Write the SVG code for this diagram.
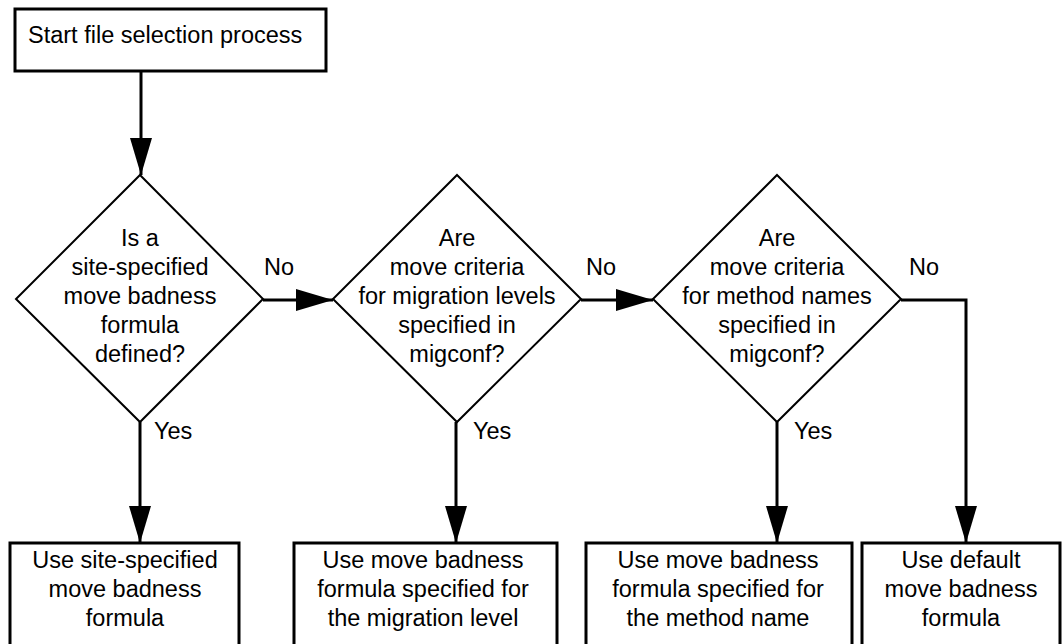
<svg xmlns="http://www.w3.org/2000/svg" width="1063" height="644" viewBox="0 0 1063 644">
<style>
.box{fill:#fff;stroke:#000;stroke-width:3}
.dia{fill:#fff;stroke:#000;stroke-width:2}
.t{font-family:"Liberation Sans",Arial,sans-serif;font-size:23.5px;fill:#000}
.c{text-anchor:middle}
.ln{fill:none;stroke:#000;stroke-width:3}
</style>
<defs>
<marker id="ah" markerUnits="userSpaceOnUse" markerWidth="38" markerHeight="22" refX="37" refY="11" orient="auto">
<path d="M0,0 L37,11 L0,22 Z" fill="#000"/>
</marker>
</defs>
<g id="connectors">
<line class="ln" x1="141" y1="71" x2="141" y2="175" marker-end="url(#ah)"/>
<line class="ln" x1="263" y1="300" x2="333" y2="300" marker-end="url(#ah)"/>
<line class="ln" x1="581" y1="300" x2="653" y2="300" marker-end="url(#ah)"/>
<polyline class="ln" points="901,300 966,300 966,543" marker-end="url(#ah)"/>
<line class="ln" x1="140" y1="422" x2="140" y2="543" marker-end="url(#ah)"/>
<line class="ln" x1="456" y1="422" x2="456" y2="543" marker-end="url(#ah)"/>
<line class="ln" x1="777" y1="422" x2="777" y2="543" marker-end="url(#ah)"/>
<text class="t" x="264" y="275">No</text>
<text class="t" x="586" y="275">No</text>
<text class="t" x="909" y="275">No</text>
<text class="t" x="154" y="439">Yes</text>
<text class="t" x="473" y="439">Yes</text>
<text class="t" x="794" y="439">Yes</text>
</g>
<g id="start">
<rect class="box" x="15" y="9" width="311" height="62"/>
<text class="t" x="28" y="43">Start file selection process</text>
</g>
<g id="d1">
<polygon class="dia" points="140,175 263,299 140,422 16,299"/>
<text class="t c" x="140" y="246">Is a</text>
<text class="t c" x="140" y="275">site-specified</text>
<text class="t c" x="140" y="304">move badness</text>
<text class="t c" x="140" y="333">formula</text>
<text class="t c" x="140" y="362">defined?</text>
</g>
<g id="d2">
<polygon class="dia" points="457,175 581,299 457,422 333,299"/>
<text class="t c" x="457" y="246">Are</text>
<text class="t c" x="457" y="275">move criteria</text>
<text class="t c" x="457" y="304">for migration levels</text>
<text class="t c" x="457" y="333">specified in</text>
<text class="t c" x="457" y="362">migconf?</text>
</g>
<g id="d3">
<polygon class="dia" points="777,175 901,299 777,422 653,299"/>
<text class="t c" x="777" y="246">Are</text>
<text class="t c" x="777" y="275">move criteria</text>
<text class="t c" x="777" y="304">for method names</text>
<text class="t c" x="777" y="333">specified in</text>
<text class="t c" x="777" y="362">migconf?</text>
</g>
<g id="b1">
<rect class="box" x="10" y="543" width="229" height="110"/>
<text class="t c" x="125" y="568">Use site-specified</text>
<text class="t c" x="125" y="597">move badness</text>
<text class="t c" x="125" y="626">formula</text>
</g>
<g id="b2">
<rect class="box" x="294" y="543" width="263" height="110"/>
<text class="t c" x="423" y="568">Use move badness</text>
<text class="t c" x="423" y="597">formula specified for</text>
<text class="t c" x="423" y="626">the migration level</text>
</g>
<g id="b3">
<rect class="box" x="586" y="543" width="266" height="110"/>
<text class="t c" x="718" y="568">Use move badness</text>
<text class="t c" x="718" y="597">formula specified for</text>
<text class="t c" x="718" y="626">the method name</text>
</g>
<g id="b4">
<rect class="box" x="862" y="543" width="198" height="110"/>
<text class="t c" x="961" y="568">Use default</text>
<text class="t c" x="961" y="597">move badness</text>
<text class="t c" x="961" y="626">formula</text>
</g>
</svg>
